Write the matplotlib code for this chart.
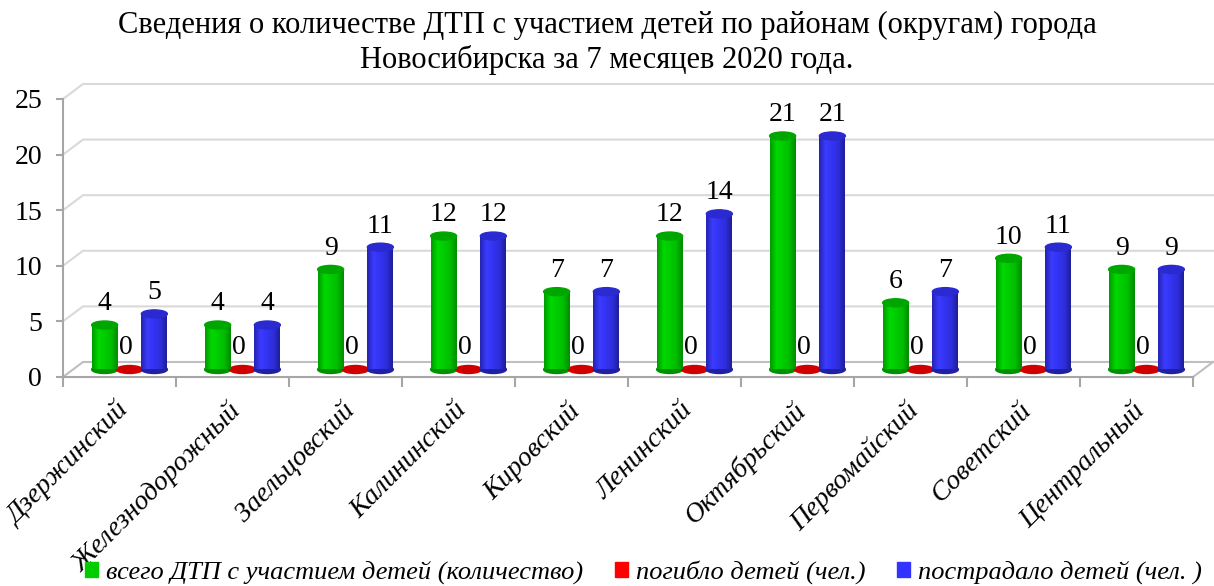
import matplotlib
matplotlib.use('Agg')
import matplotlib.pyplot as plt
import numpy as np
from matplotlib.patches import Ellipse, Patch
from matplotlib.colors import LinearSegmentedColormap

plt.rcParams['font.family'] = ['Liberation Serif', 'DejaVu Serif']

districts = ['Дзержинский', 'Железнодорожный', 'Заельцовский', 'Калининский',
             'Кировский', 'Ленинский', 'Октябрьский', 'Первомайский',
             'Советский', 'Центральный']
total = [4, 4, 9, 12, 7, 12, 21, 6, 10, 9]
killed = [0, 0, 0, 0, 0, 0, 0, 0, 0, 0]
injured = [5, 4, 11, 12, 7, 14, 21, 7, 11, 9]
series_names = ['всего ДТП с участием детей (количество)',
                'погибло детей (чел.)',
                'пострадало детей (чел. )']

# 3d look: depth offset of the back wall (data units)
dx, dy = 0.177, 1.35
bw = 0.23      # bar width
eh = 0.72      # ellipse height of caps
fs = 20

green_cm = LinearSegmentedColormap.from_list('g', ['#009a00', '#00d800', '#00cc00', '#00bc00', '#008c00'])
blue_cm = LinearSegmentedColormap.from_list('b', ['#2424b0', '#3c3cff', '#3333f2', '#2e2edc', '#1e1e9a'])


def cylinder(ax, xc, h, cmap, cap, bottom):
    base = dy / 2
    ax.add_patch(Ellipse((xc, base), bw, eh, color=bottom, zorder=3))
    grad = np.linspace(0, 1, 64)[None, :]
    ax.imshow(grad, cmap=cmap, extent=(xc - bw / 2, xc + bw / 2, base, base + h),
              aspect='auto', interpolation='bicubic', zorder=3.5)
    ax.add_patch(Ellipse((xc, base + h), bw, eh, color=cap, zorder=4))


fig = plt.figure(figsize=(12.14, 5.86), dpi=100)
ax = fig.add_axes([63 / 1214, 209 / 586, 1130 / 1214, 278 / 586])

n = len(districts)
x = np.arange(n)

# back wall grid + left wall diagonals
for k in range(0, 26, 5):
    ax.plot([-0.5, -0.5 + dx, n - 0.5 + dx], [k, k + dy, k + dy],
            color='#d9d9d9' if k else '#bfbfbf', lw=1.5, clip_on=False, zorder=1)
ax.plot([n - 0.5, n - 0.5 + dx], [0, dy], color='#bfbfbf', lw=1.5, clip_on=False, zorder=1)

for i in range(n):
    cylinder(ax, x[i] - 0.22 + dx / 2, total[i], green_cm, '#00a600', '#009000')
    ax.text(x[i] - 0.22 + dx / 2, dy / 2 + total[i] + 1.9, str(total[i]),
            ha='center', va='center', fontsize=fs)
    ax.add_patch(Ellipse((x[i] + dx / 2, dy / 2 + killed[i]), bw, eh, color='#d00000', zorder=3))
    ax.text(x[i] + dx / 2 - 0.03, dy / 2 + killed[i] + 2.0, str(killed[i]),
            ha='center', va='center', fontsize=fs)
    cylinder(ax, x[i] + 0.22 + dx / 2, injured[i], blue_cm, '#2a2ad0', '#2020a0')
    ax.text(x[i] + 0.22 + dx / 2, dy / 2 + injured[i] + 1.9, str(injured[i]),
            ha='center', va='center', fontsize=fs)

ax.set_xlim(-0.5, n - 0.5)
ax.set_ylim(0, 25)
ax.set_facecolor('none')
for s in ['top', 'right']:
    ax.spines[s].set_visible(False)
for s in ['left', 'bottom']:
    ax.spines[s].set_color('#a6a6a6')
    ax.spines[s].set_linewidth(1.5)

ax.set_yticks(range(0, 26, 5))
ax.tick_params(axis='y', colors='#a6a6a6', labelcolor='black', labelsize=fs,
               length=5, width=1.5, pad=10)
ax.set_xticks(np.arange(-0.5, n, 1.0))
ax.set_xticklabels([])
ax.tick_params(axis='x', which='major', colors='#a6a6a6', length=7, width=1.5)
ax.set_xticks(x - 0.04, minor=True)
ax.set_xticklabels(districts, minor=True, rotation=45, ha='right', va='top',
                   rotation_mode='anchor', fontsize=fs, style='italic')
ax.tick_params(axis='x', which='minor', length=0, pad=15)

fig.text(0.5, 1 - 25 / 586, 'Сведения о количестве ДТП с участием детей по районам (округам) города',
         ha='center', va='center', fontsize=22)
fig.text(0.5, 1 - 60 / 586, 'Новосибирска за 7 месяцев 2020 года.',
         ha='center', va='center', fontsize=22)

handles = [Patch(color='#00cc00'), Patch(color='#ff0000'), Patch(color='#3333ff')]
fig.legend(handles, series_names, loc='center', bbox_to_anchor=(0.53, 1 - 572 / 586),
           ncol=3, frameon=False, prop={'style': 'italic', 'size': 19},
           handlelength=0.5, handleheight=0.5, handletextpad=0.3, columnspacing=1.2,
           borderpad=0)

fig.savefig('out.png', dpi=100)
